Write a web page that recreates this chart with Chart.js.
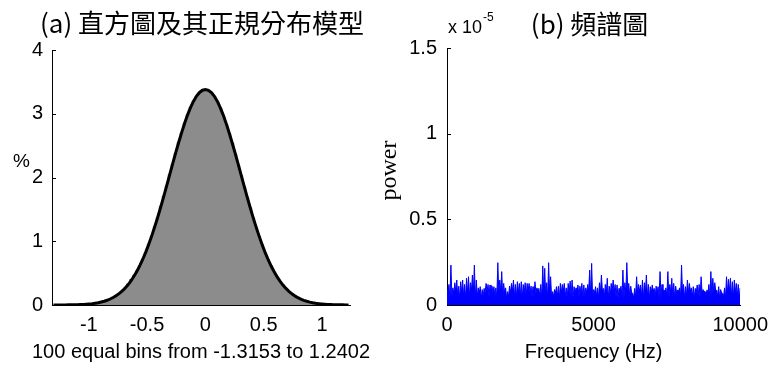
<!DOCTYPE html>
<html>
<head>
<meta charset="utf-8">
<script src="https://cdn.jsdelivr.net/npm/chart.js@4.4.1/dist/chart.umd.min.js"></script>
<style>
  body { margin: 0; background: #fff; }
  #wrap { position: relative; width: 776px; height: 369px; }
  canvas { position: absolute; top: 0; }
  #histChart { left: 0; }
  #specChart { left: 376px; }
</style>
</head>
<body>
<div id="wrap">
  <canvas id="histChart" width="376" height="369"></canvas>
  <canvas id="specChart" width="400" height="369"></canvas>
</div>
<script>
/* (a) histogram: 100 equal bins from -1.3153 to 1.2402, values in % */
const binMin = -1.3153;
const binMax = 1.2402;
const histPercent = [
  0, 0, 0, 0, 0, 0, 0, 0, 0.01, 0,
  0.01, 0.01, 0.02, 0.02, 0.03, 0.04, 0.05, 0.06, 0.07, 0.10,
  0.12, 0.15, 0.18, 0.22, 0.27, 0.33, 0.40, 0.47, 0.54, 0.62,
  0.71, 0.83, 0.96, 1.09, 1.23, 1.37, 1.55, 1.71, 1.87, 2.05,
  2.21, 2.38, 2.55, 2.70, 2.85, 2.98, 3.10, 3.20, 3.27, 3.33,
  3.37, 3.38, 3.36, 3.33, 3.27, 3.19, 3.09, 2.96, 2.83, 2.69,
  2.54, 2.37, 2.19, 2.03, 1.86, 1.69, 1.53, 1.37, 1.22, 1.08,
  0.95, 0.82, 0.71, 0.61, 0.52, 0.44, 0.37, 0.31, 0.26, 0.21,
  0.17, 0.14, 0.11, 0.09, 0.07, 0.06, 0.04, 0.03, 0.03, 0.02,
  0.02, 0.01, 0.01, 0.01, 0, 0, 0, 0, 0, 0
];
// fitted normal model, read at the same bin centres
const normalFit = [
  0.000, 0.000, 0.000, 0.001, 0.001, 0.002, 0.003, 0.004, 0.005, 0.007,
  0.009, 0.012, 0.016, 0.021, 0.028, 0.036, 0.046, 0.059, 0.074, 0.094,
  0.117, 0.144, 0.178, 0.217, 0.263, 0.317, 0.379, 0.450, 0.530, 0.621,
  0.722, 0.834, 0.956, 1.088, 1.230, 1.381, 1.540, 1.704, 1.874, 2.044,
  2.216, 2.385, 2.549, 2.705, 2.850, 2.983, 3.099, 3.198, 3.277, 3.334,
  3.369, 3.380, 3.367, 3.331, 3.273, 3.193, 3.092, 2.975, 2.841, 2.695,
  2.538, 2.374, 2.205, 2.033, 1.862, 1.693, 1.529, 1.371, 1.221, 1.080,
  0.948, 0.826, 0.715, 0.615, 0.525, 0.445, 0.375, 0.313, 0.260, 0.214,
  0.175, 0.143, 0.115, 0.092, 0.073, 0.058, 0.045, 0.035, 0.027, 0.021,
  0.016, 0.012, 0.009, 0.007, 0.005, 0.004, 0.003, 0.002, 0.001, 0.001
];
const histTicksY = [0, 1, 2, 3, 4];

/* (b) spectrum: power (x 10^-5), evenly spaced from 0 to 10000 Hz */
const freqMax = 10000;
const power = [
  0.09,0.07, 0.12,0.04, 0.233,0.05, 0.10,0.07, 0.13,0.08, 0.146,0.05, 0.11,0.04, 0.136,0.07, 0.146,0.05, 0.12,0.04,
  0.156,0.07, 0.165,0.05, 0.13,0.08, 0.175,0.07, 0.233,0.04, 0.146,0.05, 0.10,0.07, 0.107,0.04, 0.09,0.05, 0.097,0.07,
  0.126,0.08, 0.12,0.05, 0.117,0.04, 0.11,0.07, 0.107,0.05, 0.10,0.04, 0.247,0.07, 0.146,0.08, 0.195,0.05, 0.126,0.07,
  0.10,0.04, 0.078,0.05, 0.11,0.07, 0.126,0.08, 0.146,0.05, 0.12,0.04, 0.136,0.07, 0.126,0.05, 0.136,0.04, 0.12,0.07,
  0.13,0.05, 0.126,0.08, 0.126,0.07, 0.11,0.05, 0.107,0.04, 0.136,0.07, 0.10,0.08, 0.097,0.05, 0.12,0.04, 0.228,0.07,
  0.214,0.05, 0.13,0.04, 0.247,0.07, 0.165,0.05, 0.078,0.05, 0.09,0.07, 0.107,0.05, 0.11,0.04, 0.126,0.07, 0.12,0.08,
  0.126,0.05, 0.10,0.04, 0.126,0.07, 0.14,0.05, 0.146,0.04, 0.107,0.07, 0.10,0.08, 0.117,0.05, 0.11,0.07, 0.126,0.04,
  0.117,0.05, 0.10,0.07, 0.12,0.08, 0.204,0.05, 0.243,0.04, 0.09,0.07, 0.107,0.05, 0.10,0.04, 0.13,0.07, 0.175,0.08,
  0.097,0.05, 0.12,0.07, 0.156,0.04, 0.11,0.05, 0.126,0.08, 0.146,0.07, 0.12,0.05, 0.117,0.04, 0.097,0.07, 0.11,0.05,
  0.204,0.04, 0.13,0.07, 0.247,0.08, 0.126,0.05, 0.11,0.07, 0.068,0.04, 0.097,0.05, 0.165,0.07, 0.12,0.08, 0.117,0.05,
  0.146,0.04, 0.13,0.07, 0.175,0.05, 0.12,0.04, 0.107,0.07, 0.117,0.08, 0.097,0.05, 0.11,0.07, 0.107,0.04, 0.195,0.05,
  0.12,0.07, 0.088,0.08, 0.10,0.05, 0.195,0.04, 0.12,0.07, 0.156,0.05, 0.126,0.04, 0.11,0.07, 0.088,0.08, 0.10,0.05,
  0.233,0.07, 0.12,0.04, 0.107,0.05, 0.146,0.07, 0.126,0.08, 0.10,0.05, 0.107,0.04, 0.097,0.07, 0.117,0.05, 0.12,0.04,
  0.165,0.07, 0.09,0.08, 0.078,0.05, 0.088,0.07, 0.12,0.04, 0.195,0.05, 0.156,0.07, 0.13,0.08, 0.088,0.05, 0.107,0.04,
  0.09,0.07, 0.068,0.05, 0.10,0.04, 0.165,0.07, 0.15,0.08, 0.156,0.05, 0.136,0.04, 0.146,0.07, 0.126,0.05, 0.12,0.04,
  0.10
];
const specTicksX = [0, 5000, 10000];
const specTicksY = [0, 0.5, 1, 1.5];

Chart.defaults.font.family = 'Liberation Sans';
Chart.defaults.font.size = 20;
Chart.defaults.color = '#000';

// bin centres and frequency positions
const binWidth = (binMax - binMin) / histPercent.length;
const binCenters = histPercent.map((v, i) => binMin + (i + 0.5) * binWidth);
const freqs = power.map((v, i) => i * freqMax / (power.length - 1));

/* titles, extra labels and matlab style inward ticks */
const panelText = {
  id: 'panelText',
  afterDraw(chart, args, opts) {
    const ctx = chart.ctx;
    const area = chart.chartArea;
    const midX = (area.left + area.right) / 2;
    ctx.save();
    ctx.fillStyle = '#000';
    ctx.strokeStyle = '#000';
    ctx.lineWidth = 1;
    ctx.textBaseline = 'middle';
    ctx.textAlign = 'center';
    ctx.font = '26px "Noto Sans CJK TC", sans-serif';
    ctx.fillText(opts.title, midX + opts.titleDx, opts.titleY);

    // the caption is wider than the axis, so it is drawn here without squeezing
    if (opts.caption) {
      ctx.font = '20px "Liberation Sans"';
      ctx.fillText(opts.caption, midX, opts.captionY);
    }

    const ys = chart.scales.y;
    ys.ticks.forEach(t => {
      if (t.value === 0) return;
      const py = Math.round(ys.getPixelForValue(t.value)) + 0.5;
      ctx.beginPath();
      ctx.moveTo(area.left, py);
      ctx.lineTo(area.left + 4, py);
      ctx.stroke();
    });

    if (opts.unit) {
      ctx.textAlign = 'left';
      ctx.font = '19px "Liberation Sans"';
      ctx.fillText(opts.unit, opts.unitX, opts.unitY);
    }
    if (opts.exponent) {
      ctx.textAlign = 'left';
      ctx.font = '18px "Liberation Sans"';
      const base = 'x 10';
      ctx.fillText(base, opts.expX, opts.expY);
      const w = ctx.measureText(base).width;
      ctx.font = '12px "Liberation Sans"';
      ctx.fillText(opts.exponent, opts.expX + w + 1, opts.expY - 10);
    }
    ctx.restore();
  }
};

new Chart(document.getElementById('histChart'), {
  type: 'line',
  data: {
    datasets: [
      {
        label: 'normal fit',
        data: binCenters.map((x, i) => ({ x: x, y: normalFit[i] })),
        borderColor: '#000',
        borderWidth: 3,
        pointRadius: 0,
        fill: false
      },
      {
        label: 'histogram',
        data: binCenters.map((x, i) => ({ x: x, y: histPercent[i] })),
        stepped: 'middle',
        fill: 'origin',
        backgroundColor: '#8c8c8c',
        borderColor: '#8c8c8c',
        borderWidth: 1,
        pointRadius: 0
      }
    ]
  },
  options: {
    responsive: false,
    animation: false,
    layout: { padding: { top: 50, right: 26, bottom: 0, left: 0 } },
    plugins: {
      legend: { display: false },
      tooltip: { enabled: false },
      panelText: {
        title: '(a) 直方圖及其正規分布模型', titleDx: 1, titleY: 23,
        caption: '100 equal bins from -1.3153 to 1.2402', captionY: 352,
        unit: '%', unitX: 13, unitY: 162
      }
    },
    scales: {
      x: {
        type: 'linear',
        min: binMin,
        max: binMax,
        grid: { display: false, drawTicks: false },
        border: { color: '#000' },
        ticks: { stepSize: 0.5, includeBounds: false, padding: 8, maxRotation: 0, callback: v => String(v) },
        afterFit: s => { s.height = 64; }
      },
      y: {
        min: histTicksY[0],
        max: histTicksY[histTicksY.length - 1],
        grid: { display: false, drawTicks: false },
        border: { color: '#000' },
        ticks: { stepSize: 1, padding: 9 },
        afterFit: s => { s.width = 52; }
      }
    }
  },
  plugins: [panelText]
});

new Chart(document.getElementById('specChart'), {
  type: 'line',
  data: {
    datasets: [{
      label: 'power',
      data: freqs.map((f, i) => ({ x: f, y: power[i] })),
      borderColor: '#0000ff',
      backgroundColor: '#0000ff',
      borderWidth: 1,
      pointRadius: 0,
      fill: 'origin',
      tension: 0
    }]
  },
  options: {
    responsive: false,
    animation: false,
    layout: { padding: { top: 48, right: 29, bottom: 0, left: 0 } },
    plugins: {
      legend: { display: false },
      tooltip: { enabled: false },
      panelText: { title: '(b) 頻譜圖', titleDx: -4, titleY: 24, exponent: '-5', expX: 72, expY: 28 }
    },
    scales: {
      x: {
        type: 'linear',
        z: 1,
        min: specTicksX[0],
        max: specTicksX[specTicksX.length - 1],
        grid: { display: false, drawTicks: false },
        border: { color: '#000' },
        ticks: { stepSize: 5000, padding: 8, maxRotation: 0, callback: v => String(v) },
        title: { display: true, text: 'Frequency (Hz)', padding: { top: 0, bottom: 5 } },
        afterFit: s => { s.height = 64; }
      },
      y: {
        min: specTicksY[0],
        max: specTicksY[specTicksY.length - 1],
        grid: { display: false, drawTicks: false },
        border: { color: '#000' },
        ticks: { stepSize: 0.5, padding: 10, callback: v => String(v) },
        title: {
          display: true,
          text: '  power',
          font: { family: 'Liberation Serif', size: 24, lineHeight: 1 },
          padding: { top: 2, bottom: 0 }
        },
        afterFit: s => { s.width = 71; }
      }
    }
  },
  plugins: [panelText]
});
</script>
</body>
</html>
